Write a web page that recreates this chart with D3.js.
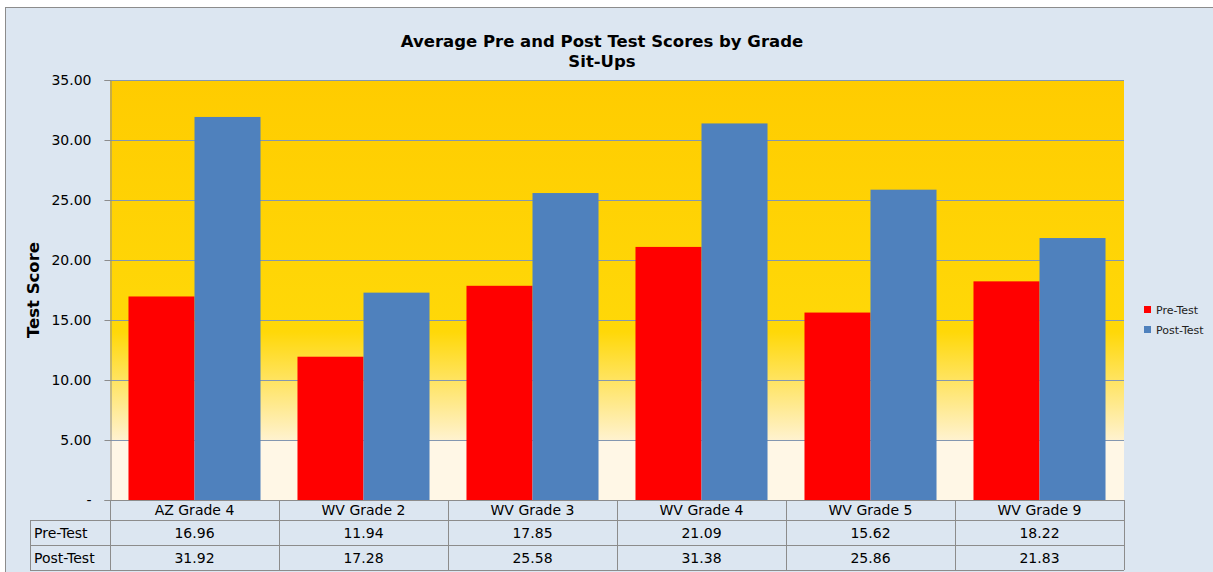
<!DOCTYPE html>
<html lang="en">
<head>
	<meta charset="UTF-8">
	<title>Sit-Ups</title>
	<script src="https://cdn.jsdelivr.net/npm/d3@7"></script>
	<style>
		body{ margin:0; background:#fff; }
		svg{ display:block; font-family:"DejaVu Sans", Verdana, sans-serif; }
	</style>
</head>
<body>
	<svg id="svg" width="1213" height="572"></svg>
	<script>
		var grades = ["AZ Grade 4","WV Grade 2","WV Grade 3","WV Grade 4","WV Grade 5","WV Grade 9"];
		var preTest = [16.96, 11.94, 17.85, 21.09, 15.62, 18.22];
		var postTest = [31.92, 17.28, 25.58, 31.38, 25.86, 21.83];
		var seriesNames = ["Pre-Test","Post-Test"];
		var colors = ["#ff0000","#4f81bd"];
		var yTicks = [0,5,10,15,20,25,30,35];

		var svg = d3.select("svg");
		var plotL = 110, plotR = 1124, plotT = 80, plotB = 500;

		// chart background
		svg.append("rect").attr("x",5.5).attr("y",7.5).attr("width",1220).attr("height",580)
			.attr("fill","#dce6f1").attr("stroke","#8c8c8c");

		var defs = svg.append("defs");
		var grad = defs.append("linearGradient").attr("id","bg").attr("x1",0).attr("y1",0).attr("x2",0).attr("y2",1);
		grad.append("stop").attr("offset","0").attr("stop-color","#ffcc00");
		grad.append("stop").attr("offset","0.6").attr("stop-color","#ffd808");
		grad.append("stop").attr("offset","0.857").attr("stop-color","#fff2cf");
		grad.append("stop").attr("offset","0.858").attr("stop-color","#fff7e6");
		grad.append("stop").attr("offset","1").attr("stop-color","#fff7e6");

		var x = d3.scaleBand().domain(grades).range([plotL,plotR]);
		var xs = d3.scaleBand().domain(seriesNames).range([0,x.bandwidth()]).paddingInner(0).paddingOuter(0.28);
		var y = d3.scaleLinear().domain([0,35]).range([plotB,plotT]);

		svg.append("rect").attr("x",plotL).attr("y",plotT).attr("width",plotR-plotL).attr("height",plotB-plotT)
			.attr("fill","url(#bg)");

		// gridlines
		svg.append("g").selectAll("line").data(yTicks.slice(1)).enter().append("line")
			.attr("x1",plotL).attr("x2",plotR)
			.attr("y1",d=>y(d)+0.5).attr("y2",d=>y(d)+0.5)
			.attr("stroke","#8497b0").attr("stroke-width",1);

		// bars
		var data = [preTest, postTest];
		var groups = svg.append("g").selectAll("g").data(grades).enter().append("g")
			.attr("transform",d=>"translate("+x(d)+",0)");
		groups.selectAll("rect").data((d,i)=>seriesNames.map((s,j)=>({s:s, v:data[j][i], c:colors[j]})))
			.enter().append("rect")
			.attr("x",d=>xs(d.s)).attr("width",xs.bandwidth())
			.attr("y",d=>y(d.v)).attr("height",d=>plotB-y(d.v))
			.attr("fill",d=>d.c);

		// y axis
		var yAxis = d3.axisLeft(y).tickValues(yTicks).tickSize(6)
			.tickFormat(d=>d===0 ? "-" : d3.format(".2f")(d));
		var ya = svg.append("g").attr("transform","translate("+(plotL+0.5)+",0)").call(yAxis);
		ya.select(".domain").attr("stroke","#8c8c8c");
		ya.selectAll(".tick line").attr("stroke","#8c8c8c");
		ya.selectAll("text").attr("font-size",14).attr("fill","#000").attr("x",-19)
			.attr("font-family","DejaVu Sans, sans-serif");

		svg.append("line").attr("x1",plotL).attr("x2",plotR).attr("y1",plotB+0.5).attr("y2",plotB+0.5)
			.attr("stroke","#8c8c8c");

		// data table
		var rowY = [500,520,545,570];
		var tableLines = svg.append("g").attr("stroke","#8c8c8c").attr("fill","none");
		tableLines.append("line").attr("x1",plotL).attr("x2",plotR).attr("y1",rowY[0]+0.5).attr("y2",rowY[0]+0.5);
		[1,2,3].forEach(function(r){
			tableLines.append("line").attr("x1",30).attr("x2",plotR).attr("y1",rowY[r]+0.5).attr("y2",rowY[r]+0.5);
		});
		tableLines.append("line").attr("x1",30.5).attr("x2",30.5).attr("y1",rowY[1]).attr("y2",rowY[3]);
		grades.forEach(function(g){
			tableLines.append("line").attr("x1",x(g)+0.5).attr("x2",x(g)+0.5).attr("y1",rowY[0]).attr("y2",rowY[3]);
		});
		tableLines.append("line").attr("x1",plotR+0.5).attr("x2",plotR+0.5).attr("y1",rowY[0]).attr("y2",rowY[3]);

		var tText = svg.append("g").attr("font-size",14).attr("fill","#000").attr("text-anchor","middle");
		tText.selectAll(".cat").data(grades).enter().append("text")
			.attr("x",d=>x(d)+x.bandwidth()/2).attr("y",(rowY[0]+rowY[1])/2+5).text(d=>d);
		data.forEach(function(vals,j){
			tText.selectAll(".v"+j).data(vals).enter().append("text")
				.attr("x",(d,i)=>x(grades[i])+x.bandwidth()/2).attr("y",(rowY[j+1]+rowY[j+2])/2+5)
				.text(d=>d3.format(".2f")(d));
			tText.append("text").attr("text-anchor","start").attr("x",34).attr("y",(rowY[j+1]+rowY[j+2])/2+5)
				.text(seriesNames[j]);
		});

		// title
		svg.append("text").attr("x",602).attr("y",47).attr("text-anchor","middle")
			.attr("font-size",16.5).attr("font-weight","bold").text("Average Pre and Post Test Scores by Grade");
		svg.append("text").attr("x",602).attr("y",67).attr("text-anchor","middle")
			.attr("font-size",16.5).attr("font-weight","bold").text("Sit-Ups");

		// axis title
		svg.append("text").attr("transform","translate(39,290) rotate(-90)").attr("text-anchor","middle")
			.attr("font-size",16.5).attr("font-weight","bold").text("Test Score");

		// legend
		var lg = svg.append("g").selectAll("g").data(seriesNames).enter().append("g")
			.attr("transform",(d,i)=>"translate(1144,"+(306+i*20)+")");
		lg.append("rect").attr("width",7).attr("height",7).attr("fill",(d,i)=>colors[i]);
		lg.append("text").attr("x",12).attr("y",8).attr("font-size",11).attr("fill","#222").text(d=>d);
	</script>
</body>
</html>
